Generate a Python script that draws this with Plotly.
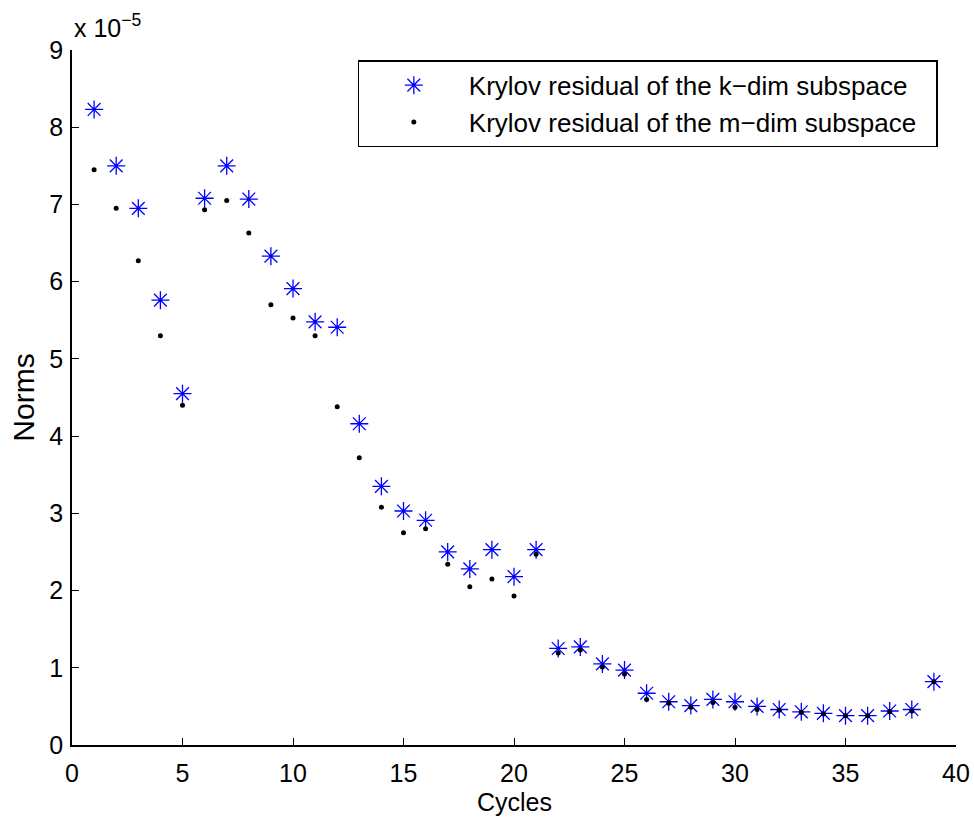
import plotly.graph_objects as go

cycles = list(range(1, 40))
# values in units of 1e-5
k_resid = [8.23, 7.50, 6.95, 5.76, 4.55, 7.08, 7.50, 7.07, 6.33, 5.91,
           5.48, 5.41, 4.16, 3.35, 3.03, 2.91, 2.50, 2.28, 2.53, 2.18,
           2.53, 1.25, 1.27, 1.05, 0.97, 0.67, 0.56, 0.51, 0.59, 0.56,
           0.50, 0.46, 0.43, 0.41, 0.38, 0.38, 0.44, 0.46, 0.82]
m_resid = [7.45, 6.95, 6.27, 5.30, 4.40, 6.93, 7.05, 6.63, 5.70, 5.53,
           5.30, 4.38, 3.72, 3.08, 2.75, 2.80, 2.34, 2.05, 2.15, 1.93,
           2.47, 1.19, 1.23, 1.01, 0.92, 0.59, 0.54, 0.49, 0.55, 0.49,
           0.46, 0.45, 0.42, 0.40, 0.38, 0.38, 0.43, 0.44, 0.82]
scale = 1e-5
y_ticks = list(range(0, 10))
x_ticks = list(range(0, 41, 5))

FONT = "Liberation Sans, Arial, Helvetica, sans-serif"
FS = 25
PAD = "\u00a0\u00a0"

fig = go.Figure()
fig.add_trace(go.Scatter(
    x=cycles, y=[v * scale for v in k_resid], mode="markers",
    name="Krylov residual of the k\u2212dim subspace" + PAD,
    marker=dict(symbol="asterisk-open", size=15, color="#0000ff",
                line=dict(color="#0000ff", width=1.3))))
fig.add_trace(go.Scatter(
    x=cycles, y=[v * scale for v in m_resid], mode="markers",
    name="Krylov residual of the m\u2212dim subspace" + PAD,
    marker=dict(symbol="circle", size=5, color="black",
                line=dict(width=0))))

fig.update_layout(
    width=974, height=818,
    margin=dict(l=72, r=18, t=50, b=73),
    paper_bgcolor="white", plot_bgcolor="white",
    font=dict(family=FONT, size=FS, color="black"),
    showlegend=True,
    legend=dict(x=0.323, y=0.985, xanchor="left", yanchor="top",
                bordercolor="black", borderwidth=1.3, bgcolor="white",
                font=dict(size=26), itemwidth=100, tracegroupgap=0),
    xaxis=dict(range=[0, 40], tickvals=x_ticks, ticks="inside", ticklen=7,
               tickwidth=1.3, tickcolor="black", showline=True, linecolor="black",
               linewidth=1.5, showgrid=False, zeroline=False, automargin=False,
               ticklabelstandoff=5,
               tickfont=dict(size=FS)),
    yaxis=dict(range=[0, 9 * scale], tickvals=[t * scale for t in y_ticks],
               ticktext=[str(t) for t in y_ticks], ticks="inside", ticklen=7,
               tickwidth=1.3, tickcolor="black", showline=True, linecolor="black",
               linewidth=1.5, showgrid=False, zeroline=False, automargin=False,
               ticklabelstandoff=2,
               title=dict(text="Norms", standoff=6),
               tickfont=dict(size=FS)),
    annotations=[
        dict(text="x 10<sup>\u22125</sup>", xref="paper", yref="paper",
             x=0.0, y=1.0, xanchor="left", yanchor="bottom", yshift=6,
             xshift=0, showarrow=False, font=dict(size=FS)),
        dict(text="Cycles", xref="paper", yref="paper",
             x=0.5, y=0.0, xanchor="center", yanchor="top", yshift=-41,
             showarrow=False, font=dict(size=FS)),
    ],
)

fig.write_html("out.html")
